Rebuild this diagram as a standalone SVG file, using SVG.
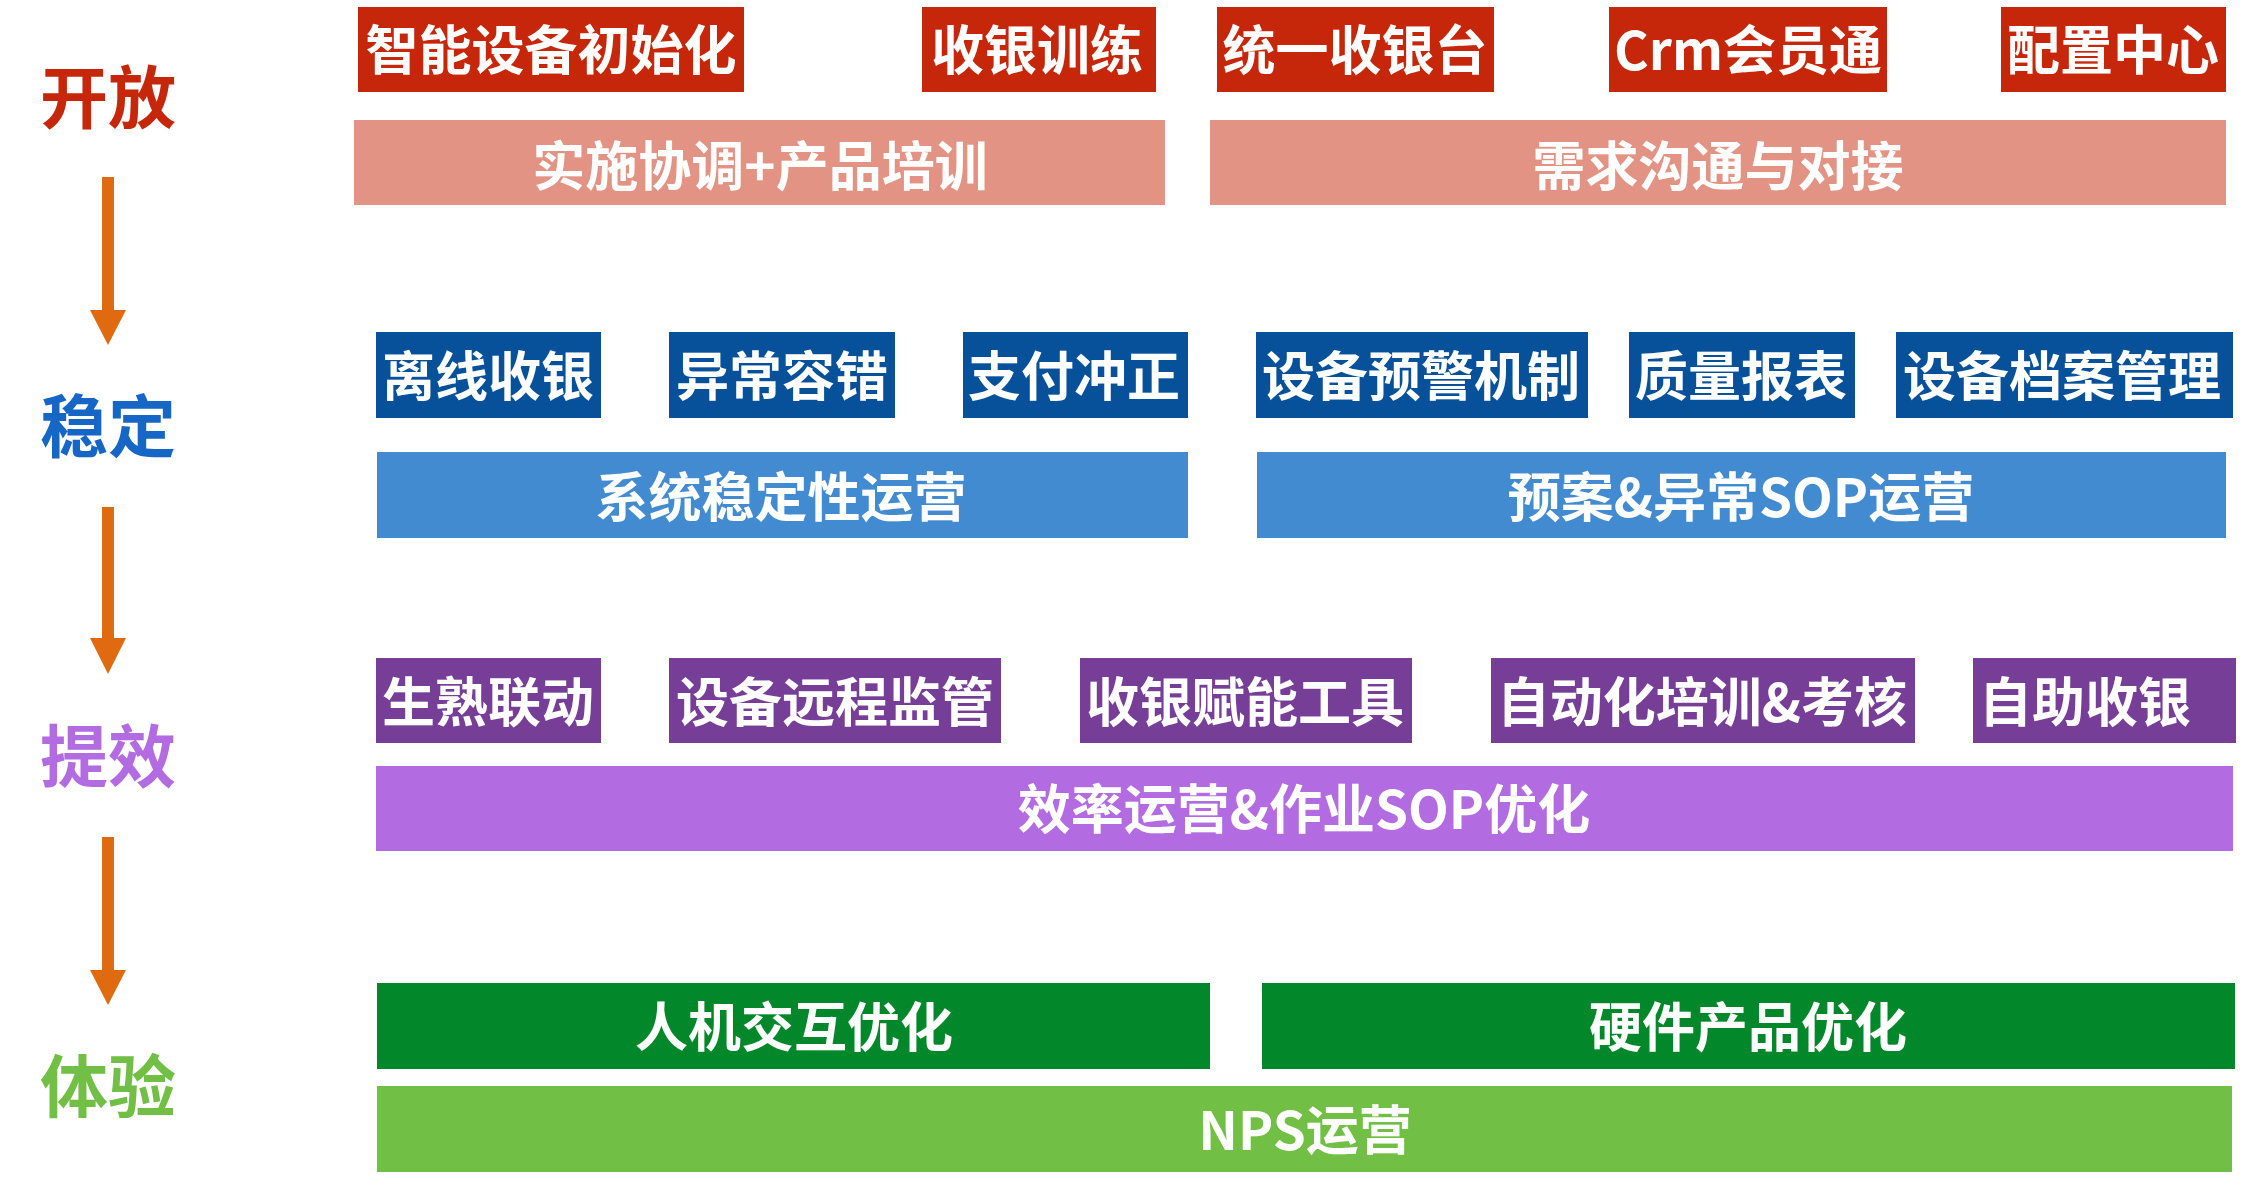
<svg xmlns="http://www.w3.org/2000/svg" width="2252" height="1193" viewBox="0 0 2252 1193">
<style>
text{font-family:"Noto Sans CJK SC","Noto Sans",sans-serif;font-weight:bold;text-anchor:middle}
.t{font-size:53px;fill:#FFFFFF}
.h{font-size:68px}
.red{fill:#C6260A}
.pink{fill:#E39383}
.dblue{fill:#06519A}
.lblue{fill:#438BD1}
.dpur{fill:#773E98}
.lpur{fill:#B36BE2}
.dgreen{fill:#02872A}
.lgreen{fill:#71BF44}
.arrow{fill:#E06A10}
</style>
<rect width="2252" height="1193" fill="#FFFFFF"/>
<g id="titles">
<text id="t-open" class="h" x="108" y="123" fill="#C6260A">开放</text>
<text id="t-stable" class="h" x="108" y="452" fill="#1666C5">稳定</text>
<text id="t-eff" class="h" x="108" y="782" fill="#B36BE2">提效</text>
<text id="t-exp" class="h" x="108" y="1112" fill="#71BF44">体验</text>
</g>
<g id="connectors">
<rect class="arrow" x="102" y="177" width="12" height="134"/>
<polygon class="arrow" points="90,310 126,310 108,345"/>
<rect class="arrow" x="102" y="507" width="12" height="132"/>
<polygon class="arrow" points="90,638 126,638 108,674"/>
<rect class="arrow" x="102" y="837" width="12" height="134"/>
<polygon class="arrow" points="90,970 126,970 108,1005"/>
</g>
<g id="n1"><rect class="red" x="358" y="7" width="386" height="85"/><text class="t" x="551" y="70">智能设备初始化</text></g>
<g id="n2"><rect class="red" x="922" y="7" width="234" height="85"/><text class="t" x="1037" y="70">收银训练</text></g>
<g id="n3"><rect class="red" x="1217" y="7" width="277" height="85"/><text class="t" x="1355" y="70">统一收银台</text></g>
<g id="n4"><rect class="red" x="1609" y="7" width="278" height="85"/><text class="t" x="1748" y="70">Crm会员通</text></g>
<g id="n5"><rect class="red" x="2001" y="7" width="225" height="85"/><text class="t" x="2113" y="70">配置中心</text></g>
<g id="n6"><rect class="pink" x="354" y="120" width="811" height="85"/><text class="t" x="760" y="186">实施协调+产品培训</text></g>
<g id="n7"><rect class="pink" x="1210" y="120" width="1016" height="85"/><text class="t" x="1718" y="186">需求沟通与对接</text></g>
<g id="n8"><rect class="dblue" x="376" y="332" width="225" height="86"/><text class="t" x="488" y="396">离线收银</text></g>
<g id="n9"><rect class="dblue" x="669" y="332" width="226" height="86"/><text class="t" x="782" y="396">异常容错</text></g>
<g id="n10"><rect class="dblue" x="963" y="332" width="225" height="86"/><text class="t" x="1074" y="396">支付冲正</text></g>
<g id="n11"><rect class="dblue" x="1256" y="332" width="332" height="86"/><text class="t" x="1421" y="396">设备预警机制</text></g>
<g id="n12"><rect class="dblue" x="1629" y="332" width="226" height="86"/><text class="t" x="1741" y="396">质量报表</text></g>
<g id="n13"><rect class="dblue" x="1896" y="332" width="337" height="86"/><text class="t" x="2062" y="396">设备档案管理</text></g>
<g id="n14"><rect class="lblue" x="377" y="452" width="811" height="86"/><text class="t" x="781" y="517">系统稳定性运营</text></g>
<g id="n15"><rect class="lblue" x="1257" y="452" width="969" height="86"/><text class="t" x="1741" y="517">预案&amp;异常SOP运营</text></g>
<g id="n16"><rect class="dpur" x="376" y="658" width="225" height="85"/><text class="t" x="488" y="722">生熟联动</text></g>
<g id="n17"><rect class="dpur" x="669" y="658" width="332" height="85"/><text class="t" x="835" y="722">设备远程监管</text></g>
<g id="n18"><rect class="dpur" x="1080" y="658" width="332" height="85"/><text class="t" x="1245" y="722">收银赋能工具</text></g>
<g id="n19"><rect class="dpur" x="1491" y="658" width="424" height="85"/><text class="t" x="1702" y="722">自动化培训&amp;考核</text></g>
<g id="n20"><rect class="dpur" x="1973" y="658" width="263" height="85"/><text class="t" x="2085" y="722">自助收银</text></g>
<g id="n21"><rect class="lpur" x="376" y="766" width="1857" height="85"/><text class="t" x="1304" y="829">效率运营&amp;作业SOP优化</text></g>
<g id="n22"><rect class="dgreen" x="377" y="983" width="833" height="86"/><text class="t" x="794" y="1047">人机交互优化</text></g>
<g id="n23"><rect class="dgreen" x="1262" y="983" width="973" height="86"/><text class="t" x="1748" y="1047">硬件产品优化</text></g>
<g id="n24"><rect class="lgreen" x="377" y="1086" width="1855" height="86"/><text class="t" x="1305" y="1150">NPS运营</text></g>
</svg>
